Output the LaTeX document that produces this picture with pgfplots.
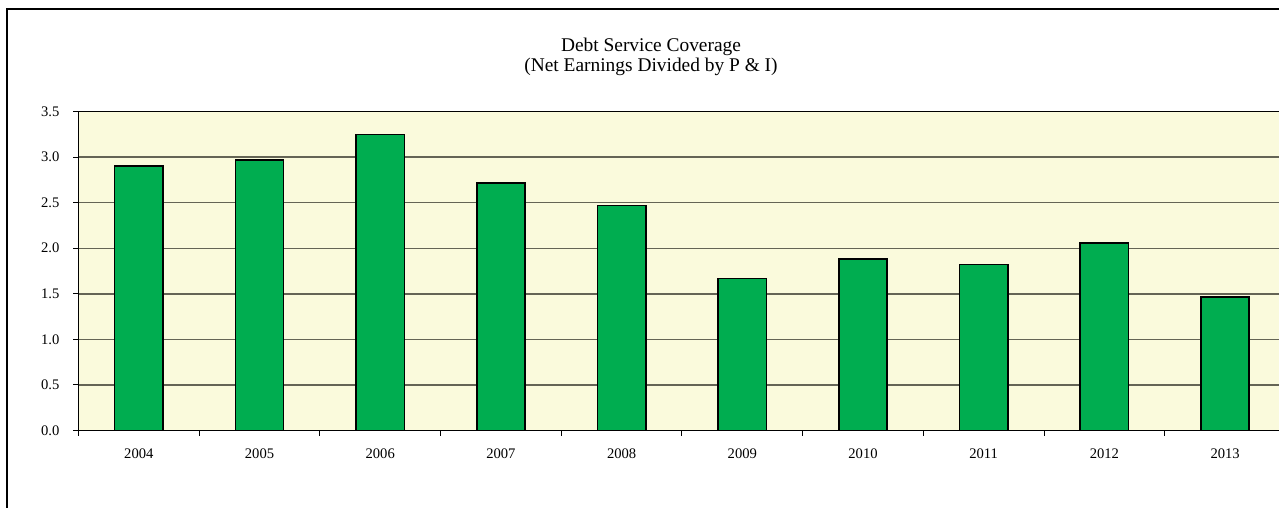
\documentclass[border=0pt]{standalone}
\usepackage{fontspec}
\setmainfont{Liberation Serif}
\usepackage{pgfplots}
\pgfplotsset{compat=1.18}
\definecolor{bgyellow}{RGB}{250,250,220}
\definecolor{bargreen}{RGB}{0,173,80}
\definecolor{gridgray}{RGB}{100,100,85}
\begin{document}
\begin{tikzpicture}[x=0.5pt,y=0.5pt]
\useasboundingbox (0,0) rectangle (1279,508);
\draw[line width=1pt] (7,499) rectangle (1320,-30);
\node[font=\fontsize{9.7}{9.8}\selectfont, align=center, anchor=center] at (651,451) {Debt Service Coverage\\(Net Earnings Divided by P \& I)};
\begin{axis}[
  at={(65,85)}, anchor=south west,
  width=603.5pt, height=159.5pt, scale only axis,
  xmin=-0.5, xmax=9.5, ymin=0, ymax=3.5,
  axis background/.style={fill=bgyellow},
  ytick={0,0.5,...,3.5},
  /pgf/number format/.cd, fixed, fixed zerofill, precision=1, assume math mode=true,
  /pgfplots/.cd,
  yticklabel style={font=\fontsize{7.3}{8}\selectfont, xshift=-3.5pt},
  xtick={0,...,9},
  xticklabels={2004,2005,2006,2007,2008,2009,2010,2011,2012,2013},
  xticklabel style={font=\fontsize{7.3}{8}\selectfont, yshift=-3pt},
  minor xtick={-0.5,0.5,...,9.5},
  major x tick style={draw=none},
  tick align=outside,
  tick style={black, line width=0.5pt},
  major tick length=2.5pt, minor tick length=2.5pt,
  ymajorgrids, grid style={gridgray, line width=0.7pt},
  axis line style={black, line width=0.6pt},
  axis x line*=bottom, axis y line*=left,
  clip=false,
]
\draw[black, line width=0.6pt] (axis cs:-0.5,3.5) -- (axis cs:9.5,3.5);
\addplot[ybar, bar width=0.4, fill=bargreen, draw=black, line width=0.8pt] coordinates {
(0,2.90) (1,2.97) (2,3.25) (3,2.715) (4,2.47) (5,1.67) (6,1.885) (7,1.82) (8,2.06) (9,1.465)
};
\end{axis}
\end{tikzpicture}
\end{document}
